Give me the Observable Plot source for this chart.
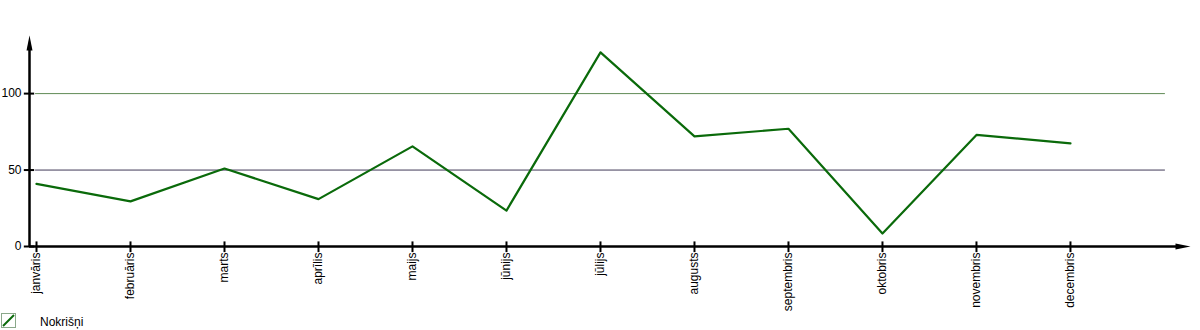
<!DOCTYPE html>
<html>
<head>
<meta charset="utf-8">
<script src="https://cdn.jsdelivr.net/npm/d3@7"></script>
<script src="https://cdn.jsdelivr.net/npm/@observablehq/plot@0.6"></script>
<style>
  body { margin: 0; background: #fff; font-family: "Liberation Sans", Arial, sans-serif; }
  #chart svg { overflow: visible; display: block; }
  #legend { position: relative; height: 25px; font-size: 12px; color: #000; }
  #legend svg { position: absolute; left: 1px; top: 8px; }
  #legend span { position: absolute; left: 40px; top: 10px; }
</style>
</head>
<body>
<div id="chart"></div>
<div id="legend"><svg width="15" height="15"><rect x="0.5" y="0.5" width="14" height="14" fill="#fff" stroke="#8aa88a"/><line x1="2" y1="13" x2="13" y2="2" stroke="#0a6a0a" stroke-width="2"/></svg><span>Nokrišņi</span></div>
<script>
const months = ["janvāris","februāris","marts","aprīlis","maijs","jūnijs","jūlijs","augusts","septembris","oktobris","novembris","decembris"];
const values = [41, 29.5, 51, 31, 65.5, 23.5, 127, 72, 77, 8.5, 73, 67.5];
const yTicks = [0, 50, 100];
const gridLow = [50];
const gridHigh = [100];

const data = months.map((m, i) => ({i, month: m, value: values[i]}));

const xMin = -0.0745, xMax = 12.277, yMax = 138;

const arrowHead = {
  draw(context) {
    context.moveTo(0, 0);
    context.lineTo(3, 15);
    context.lineTo(-3, 15);
    context.closePath();
  }
};

const chart = Plot.plot({
  width: 1200,
  height: 305,
  marginLeft: 29,
  marginRight: 10,
  marginTop: 35,
  marginBottom: 59,
  style: {fontFamily: "'Liberation Sans', Arial, sans-serif", fontSize: "12px", color: "#000", overflow: "visible"},
  x: {type: "linear", domain: [xMin, xMax], axis: null},
  y: {domain: [0, yMax], axis: null},
  marks: [
    Plot.ruleY(gridLow, {x1: -0.01, x2: 12.01, stroke: "#403a58", strokeWidth: 1}),
    Plot.ruleY(gridHigh, {x1: -0.01, x2: 12.01, stroke: "#5f8a55", strokeWidth: 1}),
    Plot.axisY(yTicks, {anchor: "left", tickSize: 0, tickPadding: 8, fontSize: 12}),
    Plot.axisX(d3.range(months.length), {anchor: "bottom", tickSize: 0, tickPadding: 6, tickRotate: -90, tickFormat: i => months[i], fontSize: 12}),
    Plot.ruleX([xMin], {y1: 0, y2: yMax - 6, stroke: "#000", strokeWidth: 2.5}),
    Plot.ruleY([0], {x1: xMin, x2: xMax - 0.1, stroke: "#000", strokeWidth: 2.5}),
    Plot.ruleX(d3.range(months.length), {x: d => d, y1: -4.0, y2: 3.0, stroke: "#000", strokeWidth: 2}),
    Plot.ruleY(yTicks, {y: d => d, x1: xMin - 0.055, x2: xMin + 0.055, stroke: "#000", strokeWidth: 2}),
    Plot.dot([{x: xMin, y: yMax}], {x: "x", y: "y", symbol: arrowHead, fill: "#000", stroke: "none", r: 5}),
    Plot.dot([{x: xMax, y: 0}], {x: "x", y: "y", symbol: arrowHead, fill: "#000", stroke: "none", r: 5, rotate: 90}),
    Plot.line(data, {x: "i", y: "value", stroke: "#0a6a0a", strokeWidth: 2.2})
  ]
});
document.getElementById("chart").appendChild(chart);
</script>
</body>
</html>
